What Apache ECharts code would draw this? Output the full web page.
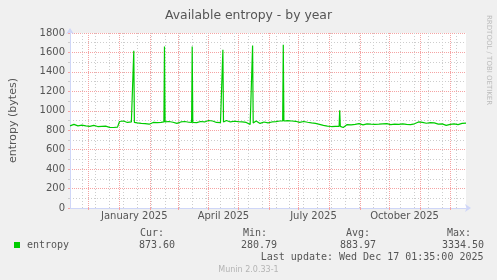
<!DOCTYPE html>
<html><head><meta charset="utf-8">
<script src="https://cdn.jsdelivr.net/npm/echarts@6/dist/echarts.min.js"></script>
<style>html,body{margin:0;padding:0;background:#F0F0F0;}#c{width:497px;height:280px;}</style>
</head><body><div id="c"></div>
<script>
// ---- data ----
const startDate = '2024-11-12T01:35:00Z';
const endDate = '2025-12-17T01:35:00Z';
const stepDays = 2;
const entropy = [
  845, 855, 860, 850, 845, 850, 852, 848, 845, 843, 840, 846, 850, 842, 838, 845, 840, 835, 842, 838, 830, 836, 828, 835, 832,
  890, 905, 895, 900, 880, 895, 885,
  878,
  880, 875, 885, 870, 878, 868, 880, 862, 850,
  880, 890, 878, 885, 880, 872,
  885, 880, 890, 875, 882, 888, 870, 880, 885, 878, 890, 875, 882, 880,
  880,
  885, 878, 880, 890, 870, 885, 895, 900, 920, 895, 888, 880, 885, 878,
  882,
  895, 900, 890, 885, 898, 892, 890, 888, 895, 885, 890, 880, 875,
  860,
  865,
  885, 895, 880, 870, 890, 885, 880, 875, 890, 885, 870, 888, 880, 895, 890,
  900, 895, 898, 890, 895, 885, 892, 888, 880, 885, 890, 878, 882, 880, 875, 872,
  870, 865, 860, 855, 850, 848,
  843, 840, 838, 842, 840, 845,
  842,
  830, 828, 840,
  858, 862, 855, 865, 860, 858, 868, 862, 855, 860, 865, 858, 862, 870, 860, 855, 862, 858,
  865, 860, 868, 862, 858, 855, 862, 865, 860, 858, 866, 862, 860, 864, 858, 862, 866, 860,
  885, 878, 880, 875, 872, 882, 878, 870, 875, 868,
  862, 855, 865, 858, 850, 862, 860, 855, 865, 860, 858, 866, 870, 872
];
const currentValue = 873.6;
const spikeDates = ['2025-01-15T12:00:00Z', '2025-02-15T12:00:00Z', '2025-03-15T12:00:00Z', '2025-04-15T12:00:00Z', '2025-05-15T12:00:00Z', '2025-06-15T12:00:00Z', '2025-08-11T12:00:00Z'];
const spikePeaks = [1618, 1662, 1662, 1628, 1672, 1680, 1004];
const spikeBase = [880, 885, 880, 885, 875, 895, 840];
const monthStarts = ['2024-12-01', '2025-01-01', '2025-02-01', '2025-03-01', '2025-04-01', '2025-05-01', '2025-06-01', '2025-07-01', '2025-08-01', '2025-09-01', '2025-10-01', '2025-11-01', '2025-12-01'];
const minorLines = ['2024-11-24', '2024-12-08', '2024-12-22', '2025-01-05', '2025-01-19', '2025-02-02', '2025-02-16', '2025-03-02', '2025-03-16', '2025-03-30', '2025-04-13', '2025-04-27', '2025-05-11', '2025-05-25', '2025-06-08', '2025-06-22', '2025-07-06', '2025-07-20', '2025-08-03', '2025-08-17', '2025-08-31', '2025-09-14', '2025-09-28', '2025-10-12', '2025-10-26', '2025-11-09', '2025-11-23', '2025-12-07'];
const labelDates = ['2025-01-16', '2025-04-16', '2025-07-16', '2025-10-16'];
const labelTexts = ['January 2025', 'April 2025', 'July 2025', 'October 2025'];
const yMin = 0, yMax = 1800, yStep = 200;
const legendName = 'entropy';
const statHeads = ['Cur:', 'Min:', 'Avg:', 'Max:'];
const statValues = ['873.60', '280.79', '883.97', '3334.50'];
const lastUpdate = 'Last update: Wed Dec 17 01:35:00 2025';

// ---- build ----
const DAY = 86400000;
const ts = s => Date.parse(s.length === 10 ? s + 'T00:00:00Z' : s);
const t0 = ts(startDate), tEnd = ts(endDate);
const spikeT = spikeDates.map(ts);
let pts = entropy.map((v, i) => [t0 + i * stepDays * DAY, v])
  .filter(p => spikeT.every(t => Math.abs(p[0] - t) > DAY));
spikeT.forEach((t, k) => {
  pts.push([t - 0.6 * DAY, spikeBase[k]], [t, spikePeaks[k]], [t + 0.6 * DAY, spikeBase[k]]);
});
pts.push([tEnd, currentValue]);
pts.sort((a, b) => a[0] - b[0]);

const monthT = monthStarts.map(ts), minorT = minorLines.map(ts), labelT = labelDates.map(ts);
const RED = '#F5A3A3', GRAY = '#CDCDCD', AX = '#CFD6F8', FONT = '#555';
const mono = 'DejaVu Sans Mono';

const chart = echarts.init(document.getElementById('c'), null, {renderer: 'canvas'});
const g = [];
g.push({type: 'rect', shape: {x: 14, y: 242, width: 6, height: 6}, style: {fill: '#00CC00'}});
g.push({type: 'text', x: 27, y: 245, style: {text: legendName, font: '10px ' + mono, fill: FONT, textVerticalAlign: 'middle'}});
const headX = [140, 243, 346, 447], valX = [139, 241, 340, 442];
statHeads.forEach((h, i) => g.push({type: 'text', x: headX[i], y: 233.5, style: {text: h, font: '10px ' + mono, fill: FONT, textVerticalAlign: 'middle'}}));
statValues.forEach((v, i) => g.push({type: 'text', x: valX[i], y: 245, style: {text: v, font: '10px ' + mono, fill: FONT, textVerticalAlign: 'middle'}}));
g.push({type: 'text', x: 483.5, y: 257.5, style: {text: lastUpdate, font: '10px ' + mono, fill: FONT, textAlign: 'right', textVerticalAlign: 'middle'}});
g.push({type: 'text', x: 248.5, y: 269.5, style: {text: 'Munin 2.0.33-1', font: '8px DejaVu Sans', fill: '#B4B4B4', textAlign: 'center', textVerticalAlign: 'middle'}});
g.push({type: 'text', x: 489, y: 15, rotation: -Math.PI / 2, style: {text: 'RRDTOOL / TOBI OETIKER', font: '7px DejaVu Sans', fill: '#BBBBBB', textAlign: 'left', textVerticalAlign: 'middle'}});

chart.setOption({
  animation: false,
  backgroundColor: '#F0F0F0',
  title: {text: 'Available entropy - by year', left: 'center', top: 5,
    textStyle: {fontFamily: 'DejaVu Sans', fontSize: 12.4, fontWeight: 'normal', color: FONT}},
  grid: {left: 66, top: 33, width: 400, height: 175, show: true, backgroundColor: '#FFFFFF', borderWidth: 0},
  xAxis: {
    type: 'value', min: t0, max: tEnd,
    axisLine: {lineStyle: {color: AX, width: 1}, symbol: ['none', 'arrow'], symbolSize: [6, 6], symbolOffset: [0, 5]},
    axisTick: {show: true, customValues: monthT, length: 2, lineStyle: {color: RED}},
    axisLabel: {customValues: labelT, fontFamily: 'DejaVu Sans', fontSize: 10, color: FONT, margin: 3,
      formatter: v => { let k = 0, best = Infinity; labelT.forEach((t, i) => { if (Math.abs(t - v) < best) { best = Math.abs(t - v); k = i; } }); return labelTexts[k]; }},
    splitLine: {show: false}, minorTick: {show: false}
  },
  yAxis: {
    type: 'value', min: yMin, max: yMax, interval: yStep,
    name: 'entropy (bytes)', nameLocation: 'middle', nameGap: 51,
    nameTextStyle: {fontFamily: 'DejaVu Sans', fontSize: 11, color: FONT},
    axisLine: {show: true, lineStyle: {color: AX, width: 1}, symbol: ['none', 'arrow'], symbolSize: [6, 6], symbolOffset: [0, 5]},
    axisTick: {show: true, length: 2, lineStyle: {color: RED}},
    minorTick: {show: true, splitNumber: 2, length: 2, lineStyle: {color: GRAY}},
    axisLabel: {fontFamily: 'DejaVu Sans', fontSize: 10, color: FONT, margin: 5, formatter: v => String(v)},
    splitLine: {show: true, lineStyle: {color: RED, type: [1, 1], width: 1}},
    minorSplitLine: {show: true, lineStyle: {color: GRAY, type: [1, 2], width: 1}}
  },
  series: [
    {type: 'line', data: [], z: 1, silent: true,
      markLine: {silent: true, symbol: 'none', label: {show: false}, animation: false,
        data: minorT.map(t => ({xAxis: t, lineStyle: {color: GRAY, type: [1, 2], width: 1}}))
          .concat(monthT.map(t => ({xAxis: t, lineStyle: {color: RED, type: [1, 1], width: 1}})))}},
    {type: 'line', data: pts, z: 5, showSymbol: false, symbol: 'none', silent: true,
      lineStyle: {color: '#00CC00', width: 1.2}}
  ],
  graphic: g
});
</script></body></html>
